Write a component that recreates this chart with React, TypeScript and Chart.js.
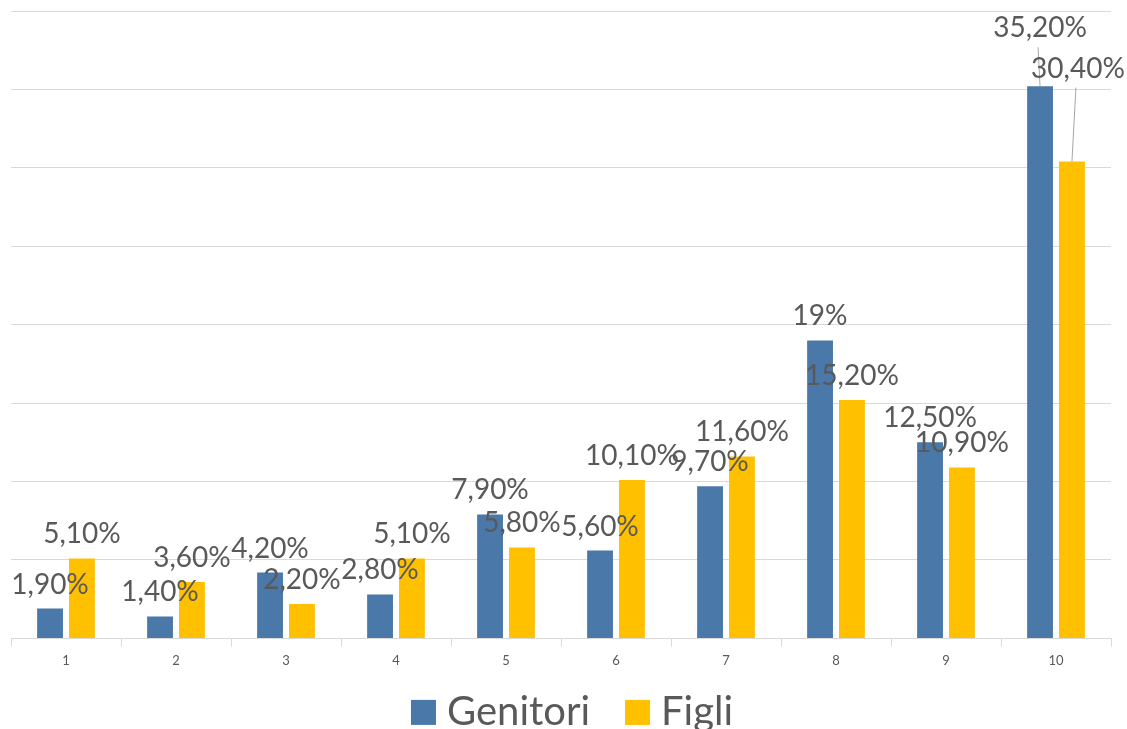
import React, { useEffect, useRef } from "react";
import { Chart, registerables } from "chart.js";

Chart.register(...registerables);

const categories = ["1", "2", "3", "4", "5", "6", "7", "8", "9", "10"];
const seriesNames = ["Genitori", "Figli"];
const genitori = [1.9, 1.4, 4.2, 2.8, 7.9, 5.6, 9.7, 19, 12.5, 35.2];
const figli = [5.1, 3.6, 2.2, 5.1, 5.8, 10.1, 11.6, 15.2, 10.9, 30.4];
const genitoriLabels = ["1,90%", "1,40%", "4,20%", "2,80%", "7,90%", "5,60%", "9,70%", "19%", "12,50%", "35,20%"];
const figliLabels = ["5,10%", "3,60%", "2,20%", "5,10%", "5,80%", "10,10%", "11,60%", "15,20%", "10,90%", "30,40%"];
// extra upward shift (px) of the manually moved labels, with leader lines
const genitoriLift = [0, 0, 0, 0, 0, 0, 0, 0, 0, 34];
const figliLift = [0, 0, 0, 0, 0, 0, 0, 0, 0, 69];
const figliShiftX = [0, 0, 0, 0, 0, 0, 0, 0, 0, 6];

const BLUE = "#4a78a8";
const YELLOW = "#ffc000";
const TEXT = "#595959";

const labelPlugin = {
  id: "barLabels",
  afterDatasetsDraw(chart: any) {
    const ctx = chart.ctx;
    const sets = [
      { labels: genitoriLabels, lift: genitoriLift, shift: categories.map(() => 0) },
      { labels: figliLabels, lift: figliLift, shift: figliShiftX },
    ];
    ctx.save();
    ctx.font = "28px Lato";
    ctx.fillStyle = TEXT;
    ctx.textAlign = "center";
    ctx.textBaseline = "alphabetic";
    sets.forEach((s, di) => {
      const meta = chart.getDatasetMeta(di);
      meta.data.forEach((bar: any, i: number) => {
        const gap = 15;
        const x = bar.x + s.shift[i];
        const y = bar.y - gap - s.lift[i];
        if (s.lift[i] > 0) {
          ctx.save();
          ctx.strokeStyle = "#a6a6a6";
          ctx.lineWidth = 1;
          ctx.beginPath();
          ctx.moveTo(x - 2, y + 10);
          ctx.lineTo(bar.x, bar.y);
          ctx.stroke();
          ctx.restore();
        }
        ctx.fillText(s.labels[i], x, y);
      });
    });
    ctx.restore();
  },
};

const legendPlugin = {
  id: "customLegend",
  afterDraw(chart: any) {
    const ctx = chart.ctx;
    const colors = [BLUE, YELLOW];
    ctx.save();
    ctx.font = "40px Lato";
    ctx.textBaseline = "middle";
    ctx.textAlign = "left";
    const box = 25;
    const gapText = 11;
    const gapItem = 35;
    const widths = seriesNames.map((n) => ctx.measureText(n).width);
    const total = widths.reduce((a, w) => a + box + gapText + w, 0) + gapItem * (seriesNames.length - 1);
    let x = (chart.chartArea.left + chart.chartArea.right) / 2 + 11 - total / 2;
    const cy = chart.chartArea.bottom + 74;
    seriesNames.forEach((n, i) => {
      ctx.fillStyle = colors[i];
      ctx.fillRect(x, cy - box / 2, box, box);
      x += box + gapText;
      ctx.fillStyle = TEXT;
      ctx.fillText(n, x, cy);
      x += widths[i] + gapItem;
    });
    ctx.restore();
  },
};

export default function App() {
  const ref = useRef<HTMLCanvasElement>(null);
  useEffect(() => {
    if (!ref.current) return;
    const chart = new Chart(ref.current, {
      type: "bar",
      data: {
        labels: categories,
        datasets: [
          {
            label: seriesNames[0],
            data: genitori,
            backgroundColor: BLUE,
            categoryPercentage: 0.58,
            barPercentage: 0.81,
          },
          {
            label: seriesNames[1],
            data: figli,
            backgroundColor: YELLOW,
            categoryPercentage: 0.58,
            barPercentage: 0.81,
          },
        ],
      },
      options: {
        animation: false,
        responsive: true,
        maintainAspectRatio: false,
        layout: { padding: { left: 11, right: 16, top: 11, bottom: 53 } },
        plugins: {
          tooltip: { enabled: false },
          legend: { display: false },
        },
        scales: {
          x: {
            grid: {
              display: true,
              drawOnChartArea: false,
              drawTicks: true,
              tickLength: 8,
              color: "#d9d9d9",
              offset: true,
            },
            border: { display: true, color: "#d9d9d9" },
            ticks: {
              font: { family: "Lato", size: 13 },
              color: TEXT,
              padding: 7,
            },
          },
          y: {
            min: 0,
            max: 40,
            ticks: { stepSize: 5, display: false },
            grid: { color: "#d9d9d9", drawTicks: false },
            border: { display: false },
          },
        },
      },
      plugins: [labelPlugin, legendPlugin],
    });
    return () => chart.destroy();
  }, []);
  return (
    <div style={{ position: "fixed", left: 0, top: 0, width: 1127, height: 729, overflow: "hidden", background: "#fff" }}>
      <div style={{ position: "relative", width: 1127, height: 729 }}>
        <canvas ref={ref} />
      </div>
    </div>
  );
}
